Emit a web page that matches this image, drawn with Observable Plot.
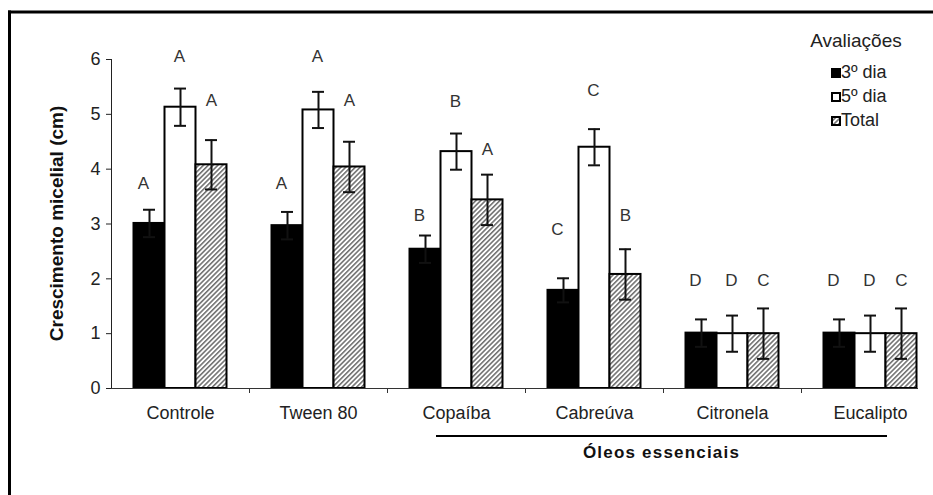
<!DOCTYPE html>
<html><head><meta charset="utf-8">
<script src="https://cdn.jsdelivr.net/npm/d3@7"></script>
<script src="https://cdn.jsdelivr.net/npm/@observablehq/plot@0.6"></script>
<style>
body{margin:0;background:#fff}
#chart{width:933px;height:495px}
</style>
</head><body><div id="chart"></div>
<script>
// ---- data ----
const categories = ["Controle", "Tween 80", "Copaíba", "Cabreúva", "Citronela", "Eucalipto"];
const seriesNames = ["3º dia", "5º dia", "Total"];
const dia3     = [3.01, 2.97, 2.54, 1.79, 1.01, 1.01];
const dia3Err  = [0.25, 0.25, 0.25, 0.22, 0.25, 0.25];
const dia5     = [5.13, 5.08, 4.32, 4.40, 1.00, 1.00];
const dia5Err  = [0.34, 0.33, 0.33, 0.33, 0.33, 0.33];
const total    = [4.08, 4.04, 3.44, 2.08, 1.00, 1.00];
const totalErr = [0.45, 0.46, 0.46, 0.46, 0.46, 0.46];
const letters3 = ["A", "A", "B", "C", "D", "D"];
const letters5 = ["A", "A", "B", "C", "D", "D"];
const lettersT = ["A", "A", "A", "B", "C", "C"];
const letterY3 = [3.74, 3.74, 3.16, 2.90, 1.96, 1.96];
const letterY5 = [6.05, 6.05, 5.24, 5.43, 1.96, 1.96];
const letterYT = [5.25, 5.25, 4.35, 3.16, 1.96, 1.96];
const yTicks = [0, 1, 2, 3, 4, 5, 6];
const yLabel = "Crescimento micelial (cm)";
const legendTitle = "Avaliações";
const groupLabel = "Óleos essenciais";

// ---- layout ----
const W = 933, H = 495;
const step = 138, barW = 31;
const inset = (step - barW) / 2;
const capInset = (step - 12) / 2;
const idx = categories.map((_, i) => i);
const cat = i => categories[i];

const series = [
  {vals: dia3, errs: dia3Err, letters: letters3, ly: letterY3, dx: -barW, ldx: -barW - 6, fill: "#000"},
  {vals: dia5, errs: dia5Err, letters: letters5, ly: letterY5, dx: 0, ldx: -1, fill: "#fff"},
  {vals: total, errs: totalErr, letters: lettersT, ly: letterYT, dx: barW, ldx: barW, fill: "url(#hatch)"}
];

const marks = [];
for (const s of series) {
  marks.push(Plot.barY(idx, {x: cat, y: i => s.vals[i], dx: s.dx, insetLeft: inset, insetRight: inset,
    fill: s.fill, stroke: "#000", strokeWidth: 2}));
}
for (const s of series) {
  marks.push(Plot.ruleX(idx, {x: cat, y1: i => s.vals[i] - s.errs[i], y2: i => s.vals[i] + s.errs[i],
    dx: s.dx, stroke: "#111", strokeWidth: 2}));
  marks.push(Plot.tickY(idx, {x: cat, y: i => s.vals[i] + s.errs[i], dx: s.dx,
    insetLeft: capInset, insetRight: capInset, stroke: "#111", strokeWidth: 2}));
  marks.push(Plot.tickY(idx, {x: cat, y: i => s.vals[i] - s.errs[i], dx: s.dx,
    insetLeft: capInset, insetRight: capInset, stroke: "#111", strokeWidth: 2}));
  marks.push(Plot.text(idx, {x: cat, y: i => s.ly[i], text: i => s.letters[i], dx: s.ldx,
    fill: "#333", fontSize: 17}));
}
// x axis line and category boundary ticks
marks.push(Plot.ruleY([0], {stroke: "#333", strokeWidth: 1}));
marks.push(Plot.ruleX(categories.slice(0, -1), {x: d => d, dx: step / 2, y1: 0, y2: 0,
  insetBottom: -5, stroke: "#333", strokeWidth: 1}));

const svg = Plot.plot({
  width: W, height: H,
  marginLeft: 111, marginRight: 15, marginTop: 59, marginBottom: H - 388,
  style: {fontFamily: "'Liberation Sans', Arial, sans-serif", fontSize: "18px", color: "#222", background: "#fff", overflow: "visible"},
  x: {type: "band", domain: categories, range: [111, 111 + step * categories.length], padding: 0,
      tickSize: 0, tickPadding: 18, label: null},
  y: {domain: [0, 6], ticks: yTicks, tickSize: 5, tickPadding: 6, label: null, line: true, tickFormat: d => String(d)},
  marks
});
document.getElementById("chart").appendChild(svg);

// ---- extra decorations drawn with d3 ----
const s = d3.select(svg);
const defs = s.insert("defs", ":first-child");
const pat = defs.append("pattern").attr("id", "hatch").attr("patternUnits", "userSpaceOnUse")
  .attr("width", 3.4).attr("height", 3.4).attr("patternTransform", "rotate(45)");
pat.append("rect").attr("width", 3.4).attr("height", 3.4).attr("fill", "#fff");
pat.append("line").attr("x1", 0.8).attr("x2", 0.8).attr("y1", 0).attr("y2", 3.4)
  .attr("stroke", "#444").attr("stroke-width", 1.2);

// outer frame (left and top edges visible)
s.append("line").attr("x1", 9.5).attr("x2", 9.5).attr("y1", 10.5).attr("y2", H).attr("stroke", "#000").attr("stroke-width", 3);
s.append("line").attr("x1", 8).attr("x2", W).attr("y1", 12).attr("y2", 12).attr("stroke", "#000").attr("stroke-width", 3);

// y axis title
s.append("text").attr("transform", `translate(58,${(59 + 388) / 2}) rotate(-90)`)
  .attr("text-anchor", "middle").attr("dominant-baseline", "middle")
  .attr("font-weight", "bold").attr("font-size", 19).attr("fill", "#111").text(yLabel);

// legend
const lg = s.append("g").attr("font-size", 18).attr("fill", "#222").attr("text-anchor", "start");
lg.append("text").attr("x", 856).attr("y", 42).attr("text-anchor", "middle").attr("dominant-baseline", "middle")
  .attr("font-size", 19).text(legendTitle);
const legFills = ["#000", "#fff", "url(#hatch)"];
seriesNames.forEach((name, k) => {
  const cy = 73 + k * 24;
  lg.append("rect").attr("x", 832).attr("y", cy - 4).attr("width", 8).attr("height", 8)
    .attr("fill", legFills[k]).attr("stroke", "#000").attr("stroke-width", 2);
  lg.append("text").attr("x", 841).attr("y", cy).attr("text-anchor", "start").attr("dominant-baseline", "middle").text(name);
});

// group bracket for essential oils
const x = svg.scale("x");
const xs = x.apply(categories[2]) + x.bandwidth / 2 - 20;
const xe = x.apply(categories[5]) + x.bandwidth / 2 + 17;
s.append("line").attr("x1", xs).attr("x2", xe).attr("y1", 436).attr("y2", 436).attr("stroke", "#000").attr("stroke-width", 2);
s.append("text").attr("x", (xs + xe) / 2).attr("y", 454).attr("text-anchor", "middle").attr("dominant-baseline", "middle")
  .attr("font-weight", "bold").attr("font-size", 17).attr("letter-spacing", 1.2).attr("fill", "#111").text(groupLabel);
</script>
</body></html>
